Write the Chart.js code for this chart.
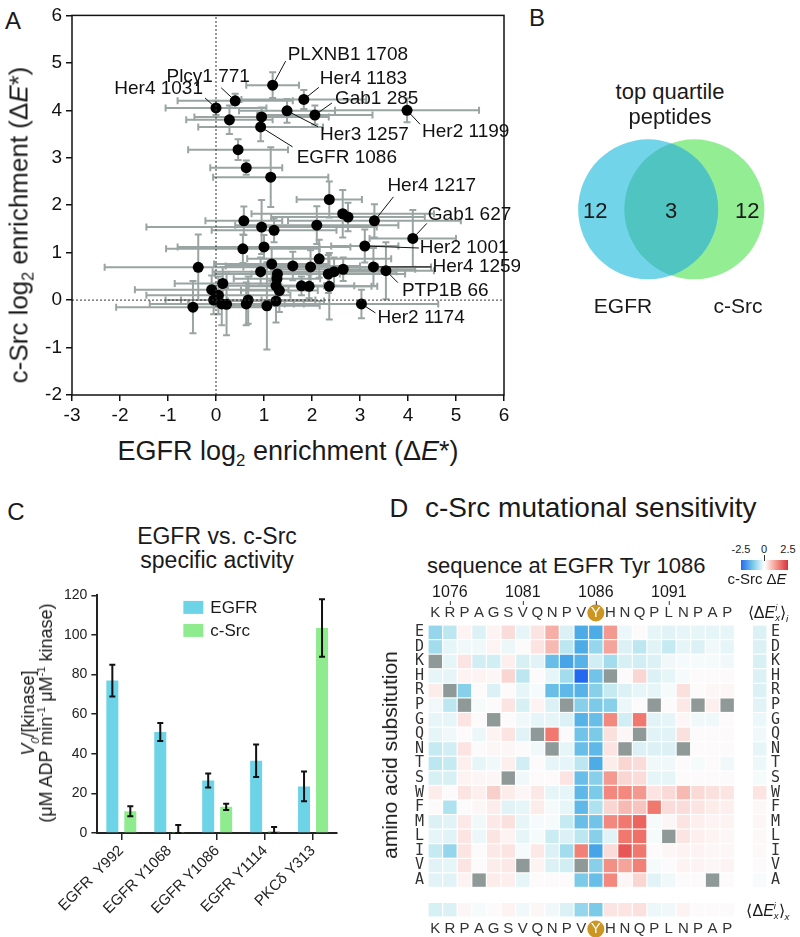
<!DOCTYPE html>
<html lang="en">
<head>
<meta charset="UTF-8">
<title>EGFR vs c-Src substrate specificity</title>
<script src="https://cdn.jsdelivr.net/npm/chart.js"></script>
<style>
  body { margin: 0; background: #fff; font-family: 'Liberation Sans', Arial, sans-serif; color: #1a1a1a; }
  #fig { position: relative; width: 800px; height: 937px; overflow: hidden; }
  .box { position: absolute; }
  .t { position: absolute; transform: translate(-50%, -50%); white-space: nowrap; line-height: 1; }
  .l { position: absolute; transform: translateY(-50%); white-space: nowrap; line-height: 1; }
  .rot { position: absolute; transform: translate(-50%, -50%) rotate(-90deg); white-space: nowrap; text-align: center; }
  sub, sup { font-size: 0.62em; line-height: 0; }
  .ss { display: inline-block; vertical-align: -0.3em; font-size: 0.6em; line-height: 1; text-align: left; }
  .ss span { display: block; }
  .cbar { position: absolute; left: 741px; top: 560px; width: 47px; height: 10px;
    background: linear-gradient(to right, rgb(35,105,240), rgb(120,200,232) 25%, #fff 50%, rgb(244,150,140) 75%, rgb(215,50,60)); }
</style>
</head>
<body>
<div id="fig">
  <div class="box" style="left:30px;top:0;"><canvas id="chartA" width="490" height="430"></canvas></div>
  <div class="box" style="left:530px;top:120px;"><canvas id="chartB" width="270" height="180"></canvas></div>
  <div class="box" style="left:55px;top:583px;"><canvas id="chartC" width="300" height="354"></canvas></div>
  <div class="box" style="left:375px;top:578px;"><canvas id="chartD" width="425" height="359"></canvas></div>

  <div class="t" style="left:13px;top:21px;font-size:24px;">A</div>
  <div class="t" style="left:537px;top:18px;font-size:24px;">B</div>
  <div class="t" style="left:16px;top:512px;font-size:24px;">C</div>
  <div class="t" style="left:399px;top:508px;font-size:26px;">D</div>

  <div class="t" style="left:288px;top:451px;font-size:27px;">EGFR log<sub>2</sub> enrichment (Δ<i>E</i>*)</div>
  <div class="rot" style="left:19px;top:225px;font-size:26px;">c-Src log<sub>2</sub> enrichment (Δ<i>E</i>*)</div>

  <div class="t" style="left:670px;top:92px;font-size:22px;">top quartile</div>
  <div class="t" style="left:670px;top:117px;font-size:22px;">peptides</div>
  <div class="t" style="left:623px;top:305px;font-size:21px;">EGFR</div>
  <div class="t" style="left:738px;top:305px;font-size:21px;">c-Src</div>

  <div class="t" style="left:217px;top:536px;font-size:23px;">EGFR vs. c-Src</div>
  <div class="t" style="left:217px;top:560px;font-size:23px;">specific activity</div>
  <div class="rot" style="left:37px;top:713px;font-size:18px;line-height:18px;"><i>V</i><sub><i>0</i></sub>/[kinase]<br>(μM ADP min<sup>-1</sup> μM<sup>-1</sup> kinase)</div>

  <div class="l" style="left:425px;top:508px;font-size:28px;">c-Src mutational sensitivity</div>
  <div class="l" style="left:427px;top:566px;font-size:22px;">sequence at EGFR Tyr 1086</div>
  <div class="rot" style="left:390px;top:755px;font-size:21px;">amino acid subsitution</div>
  <div class="cbar"></div>
  <div class="box" style="left:764px;top:555px;width:1px;height:6px;background:#333;"></div>
  <div class="t" style="left:741px;top:549px;font-size:11px;">-2.5</div>
  <div class="t" style="left:764px;top:549px;font-size:11px;">0</div>
  <div class="t" style="left:788px;top:549px;font-size:11px;">2.5</div>
  <div class="t" style="left:757px;top:578px;font-size:15px;">c-Src Δ<i>E</i></div>
  <div class="t" style="left:768px;top:613px;font-size:16px;">⟨Δ<i>E</i><span class="ss"><span><i>i</i></span><span><i>x</i></span></span>⟩<sub><i>i</i></sub></div>
  <div class="t" style="left:768px;top:911px;font-size:16px;">⟨Δ<i>E</i><span class="ss"><span><i>i</i></span><span><i>x</i></span></span>⟩<sub><i>x</i></sub></div>
</div>

<script>
Chart.defaults.font.family = "'Liberation Sans', Arial, sans-serif";
Chart.defaults.color = '#1a1a1a';
Chart.defaults.animation = false;
Chart.defaults.events = [];
Chart.defaults.plugins.legend.display = false;
Chart.defaults.plugins.tooltip.enabled = false;

// ---- Panel A: peptide enrichment, EGFR vs c-Src ----
const egfrLog2 = [0.00, 0.40, 1.18, 1.83, 1.48, 2.06, 0.28, 0.95, 0.93, 3.98,
                  0.46, 0.63, 1.14, 2.36, 2.64, 2.75, 3.30, 0.58, 0.95, 1.21,
                  2.10, 4.10, 0.56, 1.00, 3.10, 2.15, -0.37, 0.93, 1.16, 1.28,
                  1.27, 1.25, 1.32, 1.60, 1.97, 2.34, 2.46, 2.65, 3.28, 3.54,
                  1.78, 1.94, 2.36, 3.03, -0.09, 0.14, 0.05, -0.05, -0.48, 0.12,
                  0.22, 0.63, 0.67, 1.06, 1.25];
const srcLog2 = [4.05, 4.20, 4.53, 4.23, 3.99, 3.90, 3.80, 3.86, 3.65, 4.00,
                 3.17, 2.79, 2.59, 2.12, 1.82, 1.75, 1.67, 1.67, 1.54, 1.47,
                 1.58, 1.30, 1.08, 1.12, 1.14, 0.87, 0.69, 0.60, 0.76, 0.55,
                 0.45, 0.30, 0.20, 0.72, 0.70, 0.55, 0.60, 0.65, 0.70, 0.62,
                 0.30, 0.29, 0.29, -0.08, 0.22, 0.35, 0.10, 0.00, -0.15, -0.08,
                 -0.09, -0.08, 0.00, -0.12, -0.02];
const egfrLog2Err = [1.05, 1.2, 0.55, 1.3, 1.0, 1.2, 0.9, 1.4, 1.3, 1.5,
                     1.04, 0.75, 1.2, 0.68, 1.9, 1.6, 1.8, 0.8, 2.4, 1.3,
                     1.7, 0.9, 1.6, 1.8, 0.7, 1.5, 1.95, 1.0, 1.2, 1.3,
                     0.9, 1.0, 0.8, 1.4, 1.4, 1.6, 1.3, 1.5, 1.2, 1.0,
                     1.1, 1.3, 1.0, 1.6, 1.6, 1.0, 1.5, 1.0, 1.6, 1.5,
                     0.8, 1.2, 1.4, 1.1, 1.0];
const srcLog2Err = [0.15, 0.15, 0.27, 0.2, 0.25, 0.2, 0.3, 0.2, 0.3, 0.25,
                    0.22, 0.15, 0.63, 0.38, 0.5, 0.3, 0.35, 0.3, 0.57, 0.25,
                    0.4, 0.6, 0.3, 0.25, 0.35, 0.4, 0.69, 0.3, 0.35, 0.2,
                    0.25, 0.3, 0.45, 0.3, 0.35, 0.4, 0.3, 0.25, 0.4, 0.6,
                    0.2, 0.25, 0.7, 0.3, 0.3, 0.35, 0.4, 0.3, 0.55, 0.45,
                    0.65, 0.45, 0.5, 0.92, 0.45];
// named peptides: index into the arrays above, text / leader offsets in px
const callouts = [
  { text: 'Her4 1031',   i: 0,  tx: -13, ty: -19, lx: -11, ly: -10, align: 'right' },
  { text: 'Plcγ1 771',   i: 1,  tx: -27, ty: -24, lx: -14, ly: -13, align: 'center' },
  { text: 'PLXNB1 1708', i: 2,  tx: 15,  ty: -30, lx: 13,  ly: -24, align: 'left' },
  { text: 'Her4 1183',   i: 3,  tx: 16,  ty: -21, lx: 15,  ly: -12, align: 'left' },
  { text: 'Gab1 285',    i: 5,  tx: 20,  ty: -16, lx: 17,  ly: -12, align: 'left' },
  { text: 'Her3 1257',   i: 4,  tx: 33,  ty: 24,  lx: 31,  ly: 16,  align: 'left' },
  { text: 'EGFR 1086',   i: 8,  tx: 36,  ty: 31,  lx: 32,  ly: 20,  align: 'left' },
  { text: 'Her2 1199',   i: 9,  tx: 15,  ty: 21,  lx: 13,  ly: 14,  align: 'left' },
  { text: 'Her4 1217',   i: 16, tx: 13,  ty: -35, lx: 19,  ly: -24, align: 'left' },
  { text: 'Gab1 627',    i: 21, tx: 15,  ty: -24, lx: 14,  ly: -15, align: 'left' },
  { text: 'Her2 1001',   i: 24, tx: 55,  ty: 2,   lx: 54,  ly: 2,   align: 'left' },
  { text: 'Her4 1259',   i: 38, tx: 59,  ty: 0,   lx: 58,  ly: 0,   align: 'left' },
  { text: 'PTP1B 66',    i: 39, tx: 16,  ty: 20,  lx: 12,  ly: 12,  align: 'left' },
  { text: 'Her2 1174',   i: 43, tx: 16,  ty: 14,  lx: 14,  ly: 9,   align: 'left' }
];

const errorBarsA = {
  id: 'errorBarsA',
  beforeDatasetDraw(chart, args) {
    if (args.index !== 2) return;
    const { ctx, scales: { x, y } } = chart;
    ctx.save();
    ctx.strokeStyle = '#9aa5a3';
    ctx.lineWidth = 2;
    egfrLog2.forEach((ex, i) => {
      const px = x.getPixelForValue(ex), py = y.getPixelForValue(srcLog2[i]);
      const x0 = x.getPixelForValue(ex - egfrLog2Err[i]), x1 = x.getPixelForValue(ex + egfrLog2Err[i]);
      const y0 = y.getPixelForValue(srcLog2[i] - srcLog2Err[i]), y1 = y.getPixelForValue(srcLog2[i] + srcLog2Err[i]);
      ctx.beginPath();
      ctx.moveTo(x0, py); ctx.lineTo(x1, py);
      ctx.moveTo(x0, py - 3.5); ctx.lineTo(x0, py + 3.5);
      ctx.moveTo(x1, py - 3.5); ctx.lineTo(x1, py + 3.5);
      ctx.moveTo(px, y0); ctx.lineTo(px, y1);
      ctx.moveTo(px - 3.5, y0); ctx.lineTo(px + 3.5, y0);
      ctx.moveTo(px - 3.5, y1); ctx.lineTo(px + 3.5, y1);
      ctx.stroke();
    });
    ctx.restore();
  }
};

const calloutsA = {
  id: 'calloutsA',
  afterDatasetsDraw(chart) {
    const { ctx, scales: { x, y } } = chart;
    ctx.save();
    ctx.font = "19px 'Liberation Sans', Arial, sans-serif";
    ctx.fillStyle = '#111';
    ctx.strokeStyle = '#111';
    ctx.lineWidth = 1;
    ctx.textBaseline = 'middle';
    callouts.forEach(c => {
      const px = x.getPixelForValue(egfrLog2[c.i]), py = y.getPixelForValue(srcLog2[c.i]);
      const len = Math.hypot(c.lx, c.ly);
      ctx.beginPath();
      ctx.moveTo(px + c.lx / len * 5, py + c.ly / len * 5);
      ctx.lineTo(px + c.lx, py + c.ly);
      ctx.stroke();
      ctx.textAlign = c.align;
      ctx.fillText(c.text, px + c.tx, py + c.ty);
    });
    ctx.restore();
  }
};

const frameA = {
  id: 'frameA',
  afterDraw(chart) {
    const { ctx, chartArea: a } = chart;
    ctx.save();
    ctx.strokeStyle = '#111';
    ctx.lineWidth = 1.5;
    ctx.strokeRect(a.left, a.top, a.right - a.left, a.bottom - a.top);
    ctx.restore();
  }
};

new Chart(document.getElementById('chartA'), {
  type: 'scatter',
  data: {
    datasets: [
      { type: 'line', data: [{ x: 0, y: -2 }, { x: 0, y: 6 }], borderColor: '#333', borderWidth: 1, borderDash: [2, 2], pointRadius: 0 },
      { type: 'line', data: [{ x: -3, y: 0 }, { x: 6, y: 0 }], borderColor: '#333', borderWidth: 1, borderDash: [2, 2], pointRadius: 0 },
      { label: 'peptides', data: egfrLog2.map((v, i) => ({ x: v, y: srcLog2[i] })), backgroundColor: '#000', pointRadius: 5.5, borderWidth: 0 }
    ]
  },
  options: {
    responsive: false,
    devicePixelRatio: 1,
    layout: { padding: { top: 13, right: 16, left: 0, bottom: 0 } },
    scales: {
      x: {
        type: 'linear', min: -3, max: 6,
        afterFit: s => { s.height = 35; },
        ticks: { stepSize: 1, font: { size: 19 }, color: '#111', padding: 3 },
        grid: { drawOnChartArea: false, tickLength: 6, color: '#111', lineWidth: 1.5 },
        border: { display: false }
      },
      y: {
        type: 'linear', min: -2, max: 6,
        afterFit: s => { s.width = 42; },
        ticks: { stepSize: 1, font: { size: 19 }, color: '#111', padding: 4 },
        grid: { drawOnChartArea: false, tickLength: 6, color: '#111', lineWidth: 1.5 },
        border: { display: false }
      }
    }
  },
  plugins: [errorBarsA, calloutsA, frameA]
});

// ---- Panel B: Venn of top quartile peptides ----
const vennSets = ['EGFR', 'c-Src'];
const vennCounts = [12, 3, 12]; // EGFR only, shared, c-Src only

const vennOverlap = {
  id: 'vennOverlap',
  afterDatasetsDraw(chart) {
    const a = chart.getDatasetMeta(0).data[0], b = chart.getDatasetMeta(1).data[0];
    const ra = a.options.radius, rb = b.options.radius;
    const { ctx } = chart;
    ctx.save();
    ctx.beginPath(); ctx.arc(a.x, a.y, ra, 0, Math.PI * 2); ctx.clip();
    ctx.beginPath(); ctx.arc(b.x, b.y, rb, 0, Math.PI * 2);
    ctx.fillStyle = '#4fc4c0';
    ctx.fill();
    ctx.restore();
    ctx.save();
    ctx.font = "22px 'Liberation Sans', Arial, sans-serif";
    ctx.fillStyle = '#1a1a1a';
    ctx.textAlign = 'center';
    ctx.textBaseline = 'middle';
    const cy = a.y + 3;
    ctx.fillText(vennCounts[0], ((a.x - ra) + (b.x - rb)) / 2 - 6, cy);
    ctx.fillText(vennCounts[1], ((b.x - rb) + (a.x + ra)) / 2, cy);
    ctx.fillText(vennCounts[2], ((a.x + ra) + (b.x + rb)) / 2 + 6, cy);
    ctx.restore();
  }
};

new Chart(document.getElementById('chartB'), {
  type: 'bubble',
  data: {
    datasets: [
      { label: vennSets[0], data: [{ x: 0, y: 0, r: 70 }], backgroundColor: '#72d4e8', borderWidth: 0, clip: false },
      { label: vennSets[1], data: [{ x: 1.37, y: 0, r: 70 }], backgroundColor: '#93ee93', borderWidth: 0, clip: false }
    ]
  },
  options: {
    responsive: false,
    devicePixelRatio: 1,
    layout: { padding: 0 },
    scales: {
      x: { display: false, min: -1.4286, max: 2.4286 },
      y: { display: false, min: -1.329, max: 1.243 }
    }
  },
  plugins: [vennOverlap]
});

// ---- Panel C: specific activity ----
const peptides = ['EGFR  Y992', 'EGFR Y1068', 'EGFR Y1086', 'EGFR Y1114', 'PKCδ Y313'];
const egfrRate = [77, 51, 26.5, 36.5, 23.5];
const egfrRateErr = [8, 4.5, 3.5, 8.2, 7.5];
const srcRate = [11, 0.5, 13.2, 1, 103.5];
const srcRateErr = [2.5, 3.5, 1.6, 2, 14.5];

const errorBarsC = {
  id: 'errorBarsC',
  afterDatasetsDraw(chart) {
    const { ctx, scales: { y } } = chart;
    ctx.save();
    ctx.strokeStyle = '#111';
    ctx.lineWidth = 2;
    chart.data.datasets.forEach((ds, di) => {
      chart.getDatasetMeta(di).data.forEach((bar, i) => {
        const top = y.getPixelForValue(ds.data[i] + ds.errors[i]);
        const bot = y.getPixelForValue(Math.max(0, ds.data[i] - ds.errors[i]));
        ctx.beginPath();
        ctx.moveTo(bar.x, top); ctx.lineTo(bar.x, bot);
        ctx.moveTo(bar.x - 3, top); ctx.lineTo(bar.x + 3, top);
        ctx.moveTo(bar.x - 3, bot); ctx.lineTo(bar.x + 3, bot);
        ctx.stroke();
      });
    });
    ctx.restore();
  }
};

const legendC = {
  id: 'legendC',
  afterDraw(chart) {
    const { ctx, chartArea: a } = chart;
    ctx.save();
    ctx.font = "17px 'Liberation Sans', Arial, sans-serif";
    ctx.textBaseline = 'middle';
    chart.data.datasets.forEach((ds, i) => {
      const y = a.top + 12 + i * 23;
      ctx.fillStyle = ds.backgroundColor;
      ctx.fillRect(a.left + 86, y - 6.5, 20, 13);
      ctx.fillStyle = '#1a1a1a';
      ctx.fillText(ds.label, a.left + 113, y + 1);
    });
    ctx.restore();
  }
};

new Chart(document.getElementById('chartC'), {
  type: 'bar',
  data: {
    labels: peptides,
    datasets: [
      { label: 'EGFR', data: egfrRate, errors: egfrRateErr, backgroundColor: '#6dd3e7', categoryPercentage: 0.75, barPercentage: 0.667 },
      { label: 'c-Src', data: srcRate, errors: srcRateErr, backgroundColor: '#8eeb8e', categoryPercentage: 0.75, barPercentage: 0.667 }
    ]
  },
  options: {
    responsive: false,
    devicePixelRatio: 1,
    layout: { padding: { top: 10, right: 18, left: 0, bottom: 0 } },
    scales: {
      x: {
        afterFit: s => { s.height = 104; },
        grid: { offset: false, drawOnChartArea: false, tickLength: 7, color: '#222', lineWidth: 1.5 },
        border: { color: '#222', width: 2 },
        ticks: { minRotation: 45, maxRotation: 45, font: { size: 15 }, color: '#222', padding: 2 }
      },
      y: {
        min: 0, max: 120,
        afterFit: s => { s.width = 42; },
        ticks: { stepSize: 20, font: { size: 14 }, color: '#222', padding: 4 },
        grid: { drawOnChartArea: false, tickLength: 6, color: '#222', lineWidth: 1.5 },
        border: { color: '#222', width: 2 }
      }
    }
  },
  plugins: [errorBarsC, legendC]
});

// ---- Panel D: c-Src mutational sensitivity heatmap ----
const residues = ['K', 'R', 'P', 'A', 'G', 'S', 'V', 'Q', 'N', 'P', 'V', 'Y', 'H', 'N', 'Q', 'P', 'L', 'N', 'P', 'A', 'P'];
const substitutions = ['E', 'D', 'K', 'H', 'R', 'P', 'G', 'Q', 'N', 'T', 'S', 'W', 'F', 'M', 'L', 'I', 'V', 'A'];
const positionTicks = [[1076, 1], [1081, 6], [1086, 11], [1091, 16]];
// ΔE per substitution (rows) x position (cols); null = wild-type residue
const deltaE = [
  [-0.9, -0.6, 0.1, -0.3, 0.1, 0.4, -0.2, 0.3, 0.9, -0.3, -1.6, -1.6, 1.1, -0.15, 0.0, -0.2, -0.25, -0.2, -0.2, -0.2, -0.2],
  [-0.8, -0.2, -0.1, -0.1, 0.1, -0.15, 0.0, 0.3, 0.8, -0.6, -1.6, -0.9, 1.0, -0.3, -0.6, -0.25, -0.5, -0.2, -0.3, -0.1, -0.2],
  [null, -0.2, 0.3, -0.4, -0.4, 0.15, -0.35, -0.25, -1.3, -1.7, -1.5, -0.4, -0.8, -0.35, -0.4, -0.3, -0.1, -0.05, -0.05, -0.05, -0.1],
  [-0.2, -0.2, 0.1, 0.1, 0.05, 0.5, -0.6, 0.0, -0.2, -0.8, -2.5, -1.2, null, 0.0, 0.5, -0.3, -0.2, -0.05, 0.0, 0.0, 0.0],
  [0.2, null, -1.0, 0.0, -0.3, 0.0, -0.2, -0.05, -1.3, -1.4, -1.5, -1.0, -0.5, -0.3, -0.2, -0.2, -0.05, 0.35, 0.0, 0.05, 0.05],
  [-0.1, -0.6, null, -0.05, 0.0, 0.3, -0.35, 0.1, -0.3, null, -1.0, -1.1, -1.0, -0.15, 0.0, null, 0.0, 0.25, null, 0.15, null],
  [-0.2, -0.2, 0.3, 0.0, null, 0.0, -0.1, -0.2, -0.2, -0.3, -1.5, -1.3, 1.3, -0.4, 1.5, -0.25, -0.2, 0.05, -0.1, -0.1, 0.0],
  [-0.2, -0.1, 0.0, -0.15, 0.1, 0.3, -0.25, null, 1.5, 0.0, -1.2, -1.1, 0.35, 0.05, null, -0.25, -0.25, 0.35, 0.0, 0.0, 0.0],
  [-0.5, -0.4, 0.3, 0.0, 0.05, 0.05, 0.0, -0.1, null, -0.2, -1.3, -1.4, 0.3, null, -0.3, -0.3, -0.3, null, 0.0, 0.0, 0.0],
  [-0.6, -0.5, 0.15, -0.2, -0.1, 0.15, -0.4, 0.0, -0.2, -0.2, -0.6, -1.6, 0.2, 0.5, 0.4, -0.1, -0.1, 0.0, -0.05, 0.0, -0.1],
  [-0.35, -0.35, 0.1, 0.05, 0.05, null, -0.1, 0.0, 0.0, 0.3, -1.3, -1.0, 1.1, 0.5, 0.4, -0.2, -0.2, 0.0, 0.0, 0.0, 0.0],
  [0.2, 0.0, 0.3, 0.15, 0.6, 0.2, 0.05, 0.25, -0.2, -0.2, -1.4, -1.1, 1.3, 1.3, 1.1, 0.3, 0.45, 0.8, 0.45, 0.35, 0.3],
  [0.0, -0.7, 0.0, 0.05, 0.2, -0.25, -0.2, 0.2, -0.05, -0.2, -1.4, -0.7, 0.5, 0.8, 0.7, 1.5, 0.4, 0.4, 0.3, 0.2, 0.15],
  [-0.3, -0.25, 0.25, -0.1, 0.25, 0.35, -0.2, -0.05, -0.05, -0.5, -1.3, -1.2, 1.3, 1.5, 1.8, -0.05, 0.05, 0.3, 0.15, 0.1, 0.1],
  [-0.2, -0.25, 0.3, -0.15, 0.3, 0.1, -0.2, -0.05, -0.45, -0.3, -0.6, -1.0, -0.25, 1.5, 1.6, -0.05, null, 0.3, 0.15, 0.1, 0.05],
  [-0.5, -0.9, 0.3, 0.0, 0.25, 0.3, -0.05, 0.25, -0.3, -0.8, 1.4, -1.7, 0.4, 2.0, 1.5, 0.0, 0.05, 0.1, 0.1, 0.05, 0.05],
  [-0.25, -0.2, 0.3, 0.0, 0.2, 0.25, null, 0.1, -0.3, -0.4, null, -1.0, 1.2, 1.0, 1.4, -0.05, 0.0, 0.1, 0.1, 0.05, 0.1],
  [-0.25, -0.25, 0.1, null, 0.2, 0.15, -0.2, 0.0, 0.0, 0.0, -1.1, -1.3, 1.3, 0.05, 0.5, -0.25, -0.1, 0.0, 0.0, null, 0.0]
];
const meanBySubstitution = [-0.3, -0.3, -0.35, -0.3, -0.3, -0.25, -0.15, -0.1, -0.2, -0.15, -0.05, 0.3, 0.03, 0.05, 0.03, 0.02, 0.0, -0.03];
const meanByPosition = [-0.35, -0.3, 0.05, -0.05, 0.0, 0.1, -0.1, 0.05, -0.1, -0.3, -0.9, -1.1, 0.3, 0.3, 0.35, -0.15, -0.1, 0.1, 0.0, 0.0, 0.0];

const MEAN_COL = 22.23, MEAN_ROW = 19.03; // where the marginal means sit on the grid
const blueStops = [[0, [250, 252, 252]], [0.1, [225, 243, 246]], [0.25, [185, 230, 240]], [0.45, [120, 200, 232]], [0.65, [75, 170, 230]], [1, [35, 105, 240]]];
const redStops = [[0, [252, 250, 250]], [0.1, [252, 232, 230]], [0.25, [248, 205, 200]], [0.45, [244, 150, 140]], [0.65, [238, 110, 100]], [0.85, [228, 80, 80]], [1, [215, 50, 60]]];

function cellColor(v) {
  if (v === null) return '#8f9a98';
  const stops = v < 0 ? blueStops : redStops;
  const t = Math.min(1, Math.abs(v) / 2.5);
  for (let k = 1; k < stops.length; k++) {
    if (t <= stops[k][0]) {
      const [t0, c0] = stops[k - 1], [t1, c1] = stops[k];
      const f = (t - t0) / (t1 - t0);
      return 'rgb(' + c0.map((c, j) => Math.round(c + (c1[j] - c) * f)).join(',') + ')';
    }
  }
  return 'rgb(' + stops[stops.length - 1][1].join(',') + ')';
}

const cells = [];
substitutions.forEach((s, r) => residues.forEach((p, c) => cells.push({ x: c, y: r, v: deltaE[r][c] })));
meanBySubstitution.forEach((v, r) => cells.push({ x: MEAN_COL, y: r, v }));
meanByPosition.forEach((v, c) => cells.push({ x: c, y: MEAN_ROW, v }));

const tyrMarker = {
  id: 'tyrMarker',
  beforeDraw(chart) {
    const { ctx, scales } = chart;
    const col = residues.indexOf('Y');
    const cx = scales.x.getPixelForValue(col);
    const yTop = scales.x.bottom - 3 - 9, yBot = scales.x2.top + 3 + 9;
    ctx.save();
    ctx.fillStyle = '#cd9623';
    [yTop, yBot].forEach(cy => { ctx.beginPath(); ctx.arc(cx, cy, 8.5, 0, Math.PI * 2); ctx.fill(); });
    ctx.restore();
  },
  afterDraw(chart) {
    const { ctx, scales: { x } } = chart;
    ctx.save();
    ctx.font = "16px 'Liberation Sans', Arial, sans-serif";
    ctx.fillStyle = '#1a1a1a';
    ctx.strokeStyle = '#333';
    ctx.lineWidth = 1;
    ctx.textAlign = 'center';
    ctx.textBaseline = 'middle';
    positionTicks.forEach(([num, col]) => {
      const px = x.getPixelForValue(col);
      ctx.fillText(num, px, x.top - 12);
      ctx.beginPath(); ctx.moveTo(px + 0.5, x.top - 4); ctx.lineTo(px + 0.5, x.top); ctx.stroke();
    });
    ctx.restore();
  }
};

const colTicks = a => { a.ticks = residues.map((r, i) => ({ value: i })); };
const rowTicks = a => { a.ticks = substitutions.map((s, i) => ({ value: i })); };
const colTickOpts = {
  autoSkip: false, maxRotation: 0, padding: 3, font: { size: 15 },
  color: c => residues[c.index] === 'Y' ? '#fff' : '#333',
  callback: (v, i) => residues[i]
};
const rowTickOpts = {
  autoSkip: false, padding: 4, color: '#333',
  font: { family: "'DejaVu Sans Mono', monospace", size: 15 },
  callback: (v, i) => substitutions[i]
};

new Chart(document.getElementById('chartD'), {
  type: 'scatter',
  data: {
    datasets: [{
      data: cells,
      pointStyle: 'rect',
      borderWidth: 0,
      backgroundColor: c => cellColor(c.raw.v),
      pointRadius: c => {
        const s = c.chart.scales.x;
        return (s.getPixelForValue(1) - s.getPixelForValue(0) - 1.2) * Math.SQRT1_2;
      }
    }]
  },
  options: {
    responsive: false,
    devicePixelRatio: 1,
    layout: { padding: { top: 27, left: 0, right: 0, bottom: 0 } },
    scales: {
      x: {
        type: 'linear', position: 'top', min: -0.5, max: 22.73,
        afterBuildTicks: colTicks, afterFit: s => { s.height = 20; },
        ticks: colTickOpts, grid: { display: false, drawTicks: false }, border: { display: false }
      },
      x2: {
        axis: 'x', type: 'linear', position: 'bottom', min: -0.5, max: 22.73,
        afterBuildTicks: colTicks, afterFit: s => { s.height = 20; },
        ticks: colTickOpts, grid: { display: false, drawTicks: false }, border: { display: false }
      },
      y: {
        type: 'linear', position: 'left', reverse: true, min: -0.5, max: 19.53,
        afterBuildTicks: rowTicks, afterFit: s => { s.width = 53; },
        ticks: rowTickOpts, grid: { display: false, drawTicks: false }, border: { display: false }
      },
      y2: {
        axis: 'y', type: 'linear', position: 'right', reverse: true, min: -0.5, max: 19.53,
        afterBuildTicks: rowTicks, afterFit: s => { s.width = 33; },
        ticks: rowTickOpts, grid: { display: false, drawTicks: false }, border: { display: false }
      }
    }
  },
  plugins: [tyrMarker]
});
</script>
</body>
</html>
